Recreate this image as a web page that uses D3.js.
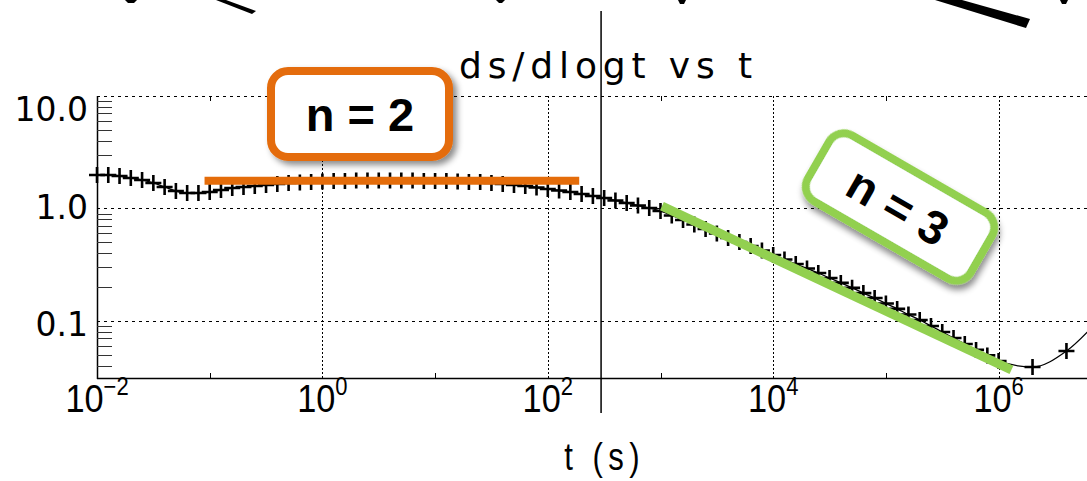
<!DOCTYPE html>
<html>
<head>
<meta charset="utf-8">
<script src="https://cdn.jsdelivr.net/npm/d3@7"></script>
<style>
  html, body { margin: 0; padding: 0; background: #fff; overflow: hidden; }
  svg { display: block; }
</style>
</head>
<body>
<svg id="chart" width="1087" height="481"></svg>
<script>
// Derivative ds/dlog t sampled every 0.1 decade of time (exponent of t in seconds)
const timeExp = [
  -2.0, -1.9, -1.8, -1.7, -1.6, -1.5, -1.4, -1.3, -1.2, -1.1,
  -1.0, -0.9, -0.8, -0.7, -0.6, -0.5, -0.4, -0.3, -0.2, -0.1,
   0.0,  0.1,  0.2,  0.3,  0.4,  0.5,  0.6,  0.7,  0.8,  0.9,
   1.0,  1.1,  1.2,  1.3,  1.4,  1.5,  1.6,  1.7,  1.8,  1.9,
   2.0,  2.1,  2.2,  2.3,  2.4,  2.5,  2.6,  2.7,  2.8,  2.9,
   3.0,  3.1,  3.2,  3.3,  3.4,  3.5,  3.6,  3.7,  3.8,  3.9,
   4.0,  4.1,  4.2,  4.3,  4.4,  4.5,  4.6,  4.7,  4.8,  4.9,
   5.0,  5.1,  5.2,  5.3,  5.4,  5.5,  5.6,  5.7,  5.8,  5.9,
   6.0
];
const dsdlogt = [
  1.985, 1.985, 1.945, 1.867, 1.792, 1.686, 1.553, 1.431, 1.373, 1.373,
  1.402, 1.460, 1.521, 1.553, 1.585, 1.618, 1.651, 1.686, 1.703, 1.720,
  1.738, 1.756, 1.756, 1.774, 1.774, 1.774, 1.774, 1.774, 1.774, 1.756,
  1.756, 1.756, 1.738, 1.720, 1.720, 1.686, 1.651, 1.618, 1.585, 1.537,
  1.490, 1.445, 1.402, 1.346, 1.292, 1.240, 1.178, 1.119, 1.063, 1.010,
  0.950, 0.867, 0.790, 0.721, 0.657, 0.599, 0.547, 0.504, 0.464, 0.423,
  0.386, 0.352, 0.321, 0.293, 0.267, 0.241, 0.218, 0.197, 0.177, 0.160,
  0.143, 0.128, 0.114, 0.102, 0.0903, 0.0798, 0.0706, 0.0625, 0.0553, 0.0494,
  0.0441
];
// Late-time samples, doubling in time
const tailTime = [2e6, 4e6, 8e6];
const tailValue = [0.0390, 0.0541, 0.106];

// Fitted slopes
const fitN2Time = [0.09, 190];
const fitN2Value = [1.76, 1.76];
const fitN3Time = [1030, 1.3e6];
const fitN3Value = [1.05, 0.0367];

// Marker of the end of pumping
const markerTime = 297;

// Axes
const yTicks = [10, 1, 0.1];
const yTickLabels = ["10.0", "1.0", "0.1"];
const xTickExp = [-2, 0, 2, 4, 6];
const xOddExp = [-1, 1, 3, 5];

const chartTitle = "ds/dlogt vs t";
const xTitle = "t (s)";

const svg = d3.select("#chart");
const W = 1087, H = 481;

const x = d3.scaleLog().domain([1e-2, 1e7]).range([97, 97 + 9 * 112.7]);
const y = d3.scaleLog().domain([Math.pow(10, -1.507), 10]).range([378, 96]);

const defs = svg.append("defs");
const sh = defs.append("filter").attr("id", "shadow")
  .attr("x", "-20%").attr("y", "-30%").attr("width", "150%").attr("height", "170%");
sh.append("feDropShadow").attr("dx", 4).attr("dy", 4).attr("stdDeviation", 3)
  .attr("flood-color", "#000").attr("flood-opacity", 0.45);

// Stray strokes along the top edge
const strokes = svg.append("g").attr("fill", "#000");
strokes.append("path").attr("d", "M125,0 L137,0 L134,3 L128,3 Z");
strokes.append("path").attr("d", "M216,0 L226,0 L256,11 L252,14 Z");
strokes.append("path").attr("d", "M496,0 L505,0 L502,3 L499,3 Z");
strokes.append("path").attr("d", "M678,0 L686,0 L684,4 L680,4 Z");
strokes.append("path").attr("d", "M935,0 L962,0 L1030,19 L1026,28 Z");
strokes.append("path").attr("d", "M1060,0 L1068,0 L1066,4 L1062,4 Z");

const [x0, x1] = x.range();
const [yb, yt] = y.range();

// Gridlines
const grid = svg.append("g").attr("stroke", "#000").attr("stroke-width", 1).attr("fill", "none");
yTicks.forEach(v => {
  grid.append("line").attr("x1", x0).attr("x2", x1)
    .attr("y1", Math.round(y(v)) + 0.5).attr("y2", Math.round(y(v)) + 0.5)
    .attr("stroke-dasharray", "3,4");
});
xTickExp.slice(1).forEach(e => {
  const px = Math.round(x(Math.pow(10, e))) + 0.5;
  grid.append("line").attr("x1", px).attr("x2", px).attr("y1", yt).attr("y2", yb)
    .attr("stroke-dasharray", "2,2");
});

// Frame: left and bottom axes
const frame = svg.append("g").attr("stroke", "#000").attr("fill", "none");
frame.append("line").attr("x1", x0 + 0.5).attr("x2", x0 + 0.5).attr("y1", yt).attr("y2", yb + 1).attr("stroke-width", 1.5);
frame.append("line").attr("x1", x0).attr("x2", W).attr("y1", yb + 0.5).attr("y2", yb + 0.5).attr("stroke-width", 1.5);

// Minor ticks on the y axis
const minorY = [];
[0.01, 0.1, 1].forEach(d => { for (let m = 2; m <= 9; m++) minorY.push(d * m); });
minorY.filter(v => v > y.domain()[0] && v < 10).forEach(v => {
  const py = Math.round(y(v)) + 0.5;
  frame.append("line").attr("x1", x0).attr("x2", x0 + 15).attr("y1", py).attr("y2", py)
    .attr("stroke-width", 1).attr("stroke", "#333");
});
// Small ticks at odd decades on x
xOddExp.forEach(e => {
  const px = Math.round(x(Math.pow(10, e))) + 0.5;
  frame.append("line").attr("x1", px).attr("x2", px).attr("y1", yb).attr("y2", yb - 5).attr("stroke-width", 1);
  frame.append("line").attr("x1", px).attr("x2", px).attr("y1", yt).attr("y2", yt + 5).attr("stroke-width", 1);
});

// Y tick labels (the top one sits just inside the frame)
const yLabelShift = [25, 11, 15];
const yl = svg.append("g").attr("font-family", "DejaVu Sans, sans-serif").attr("font-size", 33)
  .attr("fill", "#000").attr("text-anchor", "end");
yTicks.forEach((v, i) => {
  yl.append("text").attr("x", 88).attr("y", y(v) + yLabelShift[i]).text(yTickLabels[i]);
});

// X tick labels as powers of ten, in a slightly condensed face
const xl = svg.append("g").attr("font-family", "Liberation Sans, Arial, sans-serif").attr("fill", "#000");
xTickExp.forEach(e => {
  const px = x(Math.pow(10, e));
  const g = xl.append("g").attr("transform", `translate(${px},412) scale(0.88,1)`);
  const t = g.append("text").attr("x", 0).attr("y", 0).attr("text-anchor", "middle").attr("font-size", 39);
  t.append("tspan").text("10");
  t.append("tspan").attr("dy", -17).attr("font-size", 25).text(e < 0 ? "\u2212" + Math.abs(e) : String(e));
});

// Axis and chart titles
svg.append("g").attr("transform", "translate(602,470) scale(0.82,1)")
  .append("text").attr("x", 0).attr("y", 0).attr("text-anchor", "middle")
  .attr("font-family", "Liberation Sans, Arial, sans-serif").attr("font-size", 38)
  .attr("textLength", 92).attr("lengthAdjust", "spacing").text(xTitle);
svg.append("text").attr("x", 459).attr("y", 78)
  .attr("font-family", "DejaVu Sans, sans-serif").attr("font-size", 36)
  .attr("textLength", 293).attr("lengthAdjust", "spacing").text(chartTitle);

// End-of-pumping line
svg.append("line").attr("x1", x(markerTime)).attr("x2", x(markerTime))
  .attr("y1", 11).attr("y2", 413).attr("stroke", "#000").attr("stroke-width", 1.5);

// Data curve with cross markers
const pts = timeExp.map((e, i) => [Math.pow(10, e), dsdlogt[i]])
  .concat(tailTime.map((t, i) => [t, tailValue[i]]));
const line = d3.line().x(d => x(d[0])).y(d => y(d[1])).curve(d3.curveMonotoneX);
svg.append("path").datum(pts).attr("d", line)
  .attr("fill", "none").attr("stroke", "#000").attr("stroke-width", 1.3);
svg.append("g").selectAll("path").data(pts).join("path")
  .attr("transform", d => `translate(${x(d[0])},${y(d[1])})`)
  .attr("d", "M-8,0H8M0,-8V8")
  .attr("stroke", "#000").attr("stroke-width", 2.6).attr("fill", "none");

// Fitted slope lines
const fitLine = d3.line().x(d => x(d[0])).y(d => y(d[1]));
svg.append("path").datum(fitN2Time.map((t, i) => [t, fitN2Value[i]])).attr("d", fitLine)
  .attr("stroke", "#E46C0A").attr("stroke-width", 8).attr("fill", "none");
svg.append("path").datum(fitN3Time.map((t, i) => [t, fitN3Value[i]])).attr("d", fitLine)
  .attr("stroke", "#92D050").attr("stroke-width", 9).attr("fill", "none");

// Callout boxes
const box2 = svg.append("g").attr("transform", "translate(360,114)");
box2.append("rect").attr("x", -89).attr("y", -43).attr("width", 178).attr("height", 86)
  .attr("rx", 17).attr("fill", "#fff").attr("stroke", "#E46C0A").attr("stroke-width", 8)
  .attr("filter", "url(#shadow)");
box2.append("text").attr("x", 0).attr("y", 17).attr("text-anchor", "middle")
  .attr("font-family", "Liberation Sans, Arial, sans-serif").attr("font-weight", "bold")
  .attr("font-size", 47).attr("fill", "#000").text("n = 2");

const box3 = svg.append("g").attr("transform", "translate(900,207) rotate(30)");
box3.append("rect").attr("x", -94).attr("y", -38).attr("width", 188).attr("height", 76)
  .attr("rx", 17).attr("fill", "#fff").attr("stroke", "#92D050").attr("stroke-width", 8)
  .attr("filter", "url(#shadow)");
box3.append("text").attr("x", -2).attr("y", 17).attr("text-anchor", "middle")
  .attr("font-family", "Liberation Sans, Arial, sans-serif").attr("font-weight", "bold")
  .attr("font-size", 47).attr("fill", "#000").text("n = 3");
</script>
</body>
</html>
